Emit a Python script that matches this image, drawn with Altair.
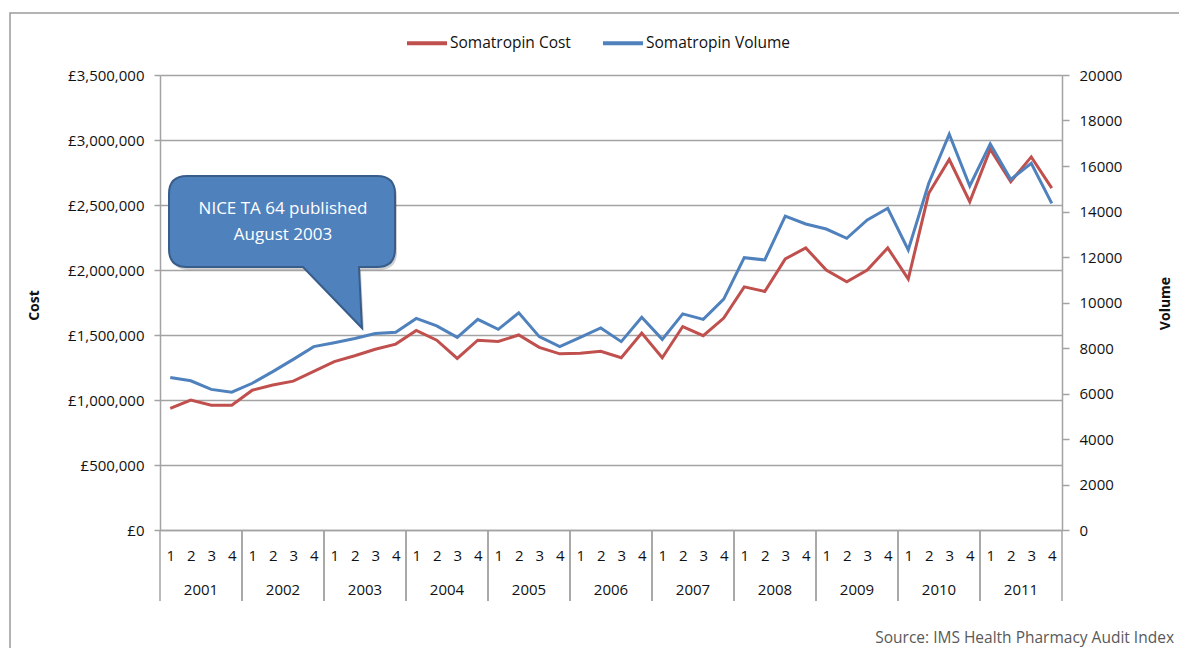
import altair as alt
import pandas as pd

# ---------------- data ----------------
years = ["2001", "2002", "2003", "2004", "2005", "2006",
         "2007", "2008", "2009", "2010", "2011"]
quarters = [1, 2, 3, 4]

cost = [935000, 1000000, 960000, 960000, 1075000, 1115000, 1145000, 1220000,
        1295000, 1340000, 1390000, 1430000, 1535000, 1460000, 1320000, 1460000,
        1450000, 1500000, 1405000, 1355000, 1360000, 1375000, 1325000, 1515000,
        1325000, 1565000, 1495000, 1630000, 1870000, 1835000, 2085000, 2170000,
        2000000, 1910000, 2000000, 2170000, 1930000, 2590000, 2850000, 2525000,
        2930000, 2680000, 2870000, 2630000]

volume = [6700, 6560, 6180, 6060, 6450, 6960, 7500, 8060,
          8230, 8420, 8640, 8690, 9300, 8970, 8470, 9260,
          8820, 9550, 8500, 8060, 8470, 8880, 8280, 9350,
          8380, 9500, 9260, 10150, 11970, 11870, 13800, 13450,
          13230, 12820, 13630, 14140, 12310, 15240, 17400, 15120,
          16970, 15410, 16120, 14360]

series_names = ["Somatropin Cost", "Somatropin Volume"]
annotation = "NICE TA 64 published\nAugust 2003"
source_note = "Source:  IMS Health Pharmacy Audit Index"

n = len(cost)
idx = list(range(n))
df = pd.DataFrame({
    "idx": idx,
    "year": [years[i // 4] for i in idx],
    "quarter": [quarters[i % 4] for i in idx],
    "cost": cost,
    "volume": volume,
})

# ---------------- styles ----------------
RED = "#C0504D"
BLUE = "#4F81BD"
GRID = "#a3a3a3"
TEXT = "#111111"
FONT = "Open Sans"

xscale = alt.Scale(domain=[-0.5, n - 0.5], nice=False, zero=False)
color_scale = alt.Scale(domain=series_names, range=[RED, BLUE])
legend = alt.Legend(
    orient="none", legendX=245, legendY=-54, direction="horizontal",
    title=None, symbolType="stroke", symbolStrokeWidth=4, symbolSize=1600,
    labelFontSize=15.5, labelOffset=1, columnPadding=24, labelColor=TEXT,
    labelFont=FONT,
)

x_axis = alt.Axis(
    values=idx, labelExpr="'' + (datum.value % 4 + 1)", ticks=False,
    tickSize=0, grid=False, domainColor=GRID, domainWidth=1.5,
    labelPadding=25, labelBaseline="middle", labelFlush=False,
    labelOverlap=False, title=None, labelFontSize=15, labelColor=TEXT,
    labelFont=FONT,
)

cost_line = alt.Chart(df).transform_calculate(
    series="'Somatropin Cost'"
).mark_line(strokeWidth=3).encode(
    x=alt.X("idx:Q", scale=xscale, axis=x_axis),
    y=alt.Y(
        "cost:Q",
        scale=alt.Scale(domain=[0, 3500000], nice=False),
        axis=alt.Axis(
            orient="left", values=list(range(0, 3500001, 500000)),
            labelExpr="'£' + format(datum.value, ',')",
            grid=True, gridColor=GRID, gridWidth=1.5,
            tickSize=6, tickColor=GRID, tickWidth=1.5,
            domainColor=GRID, domainWidth=1.5, labelPadding=10,
            labelFontSize=15, labelColor=TEXT, labelFont=FONT,
            title="Cost", titleX=-126, titleY=230, titleAngle=270,
            titleBaseline="middle", titleAlign="center",
            titleFontWeight="bold", titleFontSize=14, titleColor=TEXT,
        ),
    ),
    color=alt.Color("series:N", scale=color_scale, legend=legend),
)

vol_line = alt.Chart(df).transform_calculate(
    series="'Somatropin Volume'"
).mark_line(strokeWidth=3).encode(
    x=alt.X("idx:Q", scale=xscale, axis=x_axis),
    y=alt.Y(
        "volume:Q",
        scale=alt.Scale(domain=[0, 20000], nice=False),
        axis=alt.Axis(
            orient="right", values=list(range(0, 20001, 2000)), format="d",
            grid=False, tickSize=7, tickColor=GRID, tickWidth=1.5,
            domainColor=GRID, domainWidth=1.5, labelPadding=10,
            labelFontSize=15, labelColor=TEXT, labelFont=FONT,
            title="Volume", titleX=103, titleY=228, titleAngle=270,
            titleBaseline="middle", titleAlign="center",
            titleFontWeight="bold", titleFontSize=14, titleColor=TEXT,
        ),
    ),
    color=alt.Color("series:N", scale=color_scale, legend=legend),
)

# year labels centred under each group of quarters
year_text = alt.Chart(df).transform_aggregate(
    mid="mean(idx)", groupby=["year"]
).mark_text(fontSize=15, color=TEXT, baseline="middle", font=FONT).encode(
    x=alt.X("mid:Q", scale=xscale, axis=x_axis),
    y=alt.value(515),
    text="year:N",
)

# separators between years
sep_start = alt.Chart(df).transform_aggregate(
    lo="min(idx)", groupby=["year"]
).transform_calculate(b="datum.lo - 0.5").mark_rule(
    color=GRID, strokeWidth=1.5
).encode(
    x=alt.X("b:Q", scale=xscale, axis=x_axis),
    y=alt.value(455), y2=alt.value(526),
)
sep_end = alt.Chart(df).transform_aggregate(
    hi="max(idx)", groupby=["year"]
).transform_calculate(b="datum.hi + 0.5").mark_rule(
    color=GRID, strokeWidth=1.5
).encode(
    x=alt.X("b:Q", scale=xscale, axis=x_axis),
    y=alt.value(455), y2=alt.value(526),
)

# callout bubble (rounded box with a tail)
bubble_path = (
    "M -0.841,-0.673 L 0.841,-0.673 Q 1,-0.673 1,-0.514 L 1,-0.026 "
    "Q 1,0.133 0.841,0.133 L 0.681,0.133 L 0.708,0.673 L 0.186,0.133 "
    "L -0.841,0.133 Q -1,0.133 -1,-0.026 L -1,-0.514 Q -1,-0.673 -0.841,-0.673 Z"
)
bubble_df = pd.DataFrame({"label": [annotation]})
bubble_shadow = alt.Chart(bubble_df).mark_point(
    shape=bubble_path, filled=True, fill="#000000", opacity=0.18,
    strokeWidth=0, size=226 * 226,
).encode(x=alt.value(124), y=alt.value(180))
bubble = alt.Chart(bubble_df).mark_point(
    shape=bubble_path, filled=True, fill=BLUE, stroke="#385D8A",
    strokeWidth=2, opacity=1, size=226 * 226,
).encode(x=alt.value(122), y=alt.value(177))

bubble_text = alt.Chart(bubble_df).mark_text(
    fontSize=17, color="white", lineBreak="\n", lineHeight=26,
    align="center", baseline="middle", font=FONT,
).encode(x=alt.value(123), y=alt.value(134), text="label:N")

source_df = pd.DataFrame({"label": [source_note]})
source = alt.Chart(source_df).mark_text(
    fontSize=15.5, color="#595959", align="right", baseline="middle", font=FONT,
).encode(x=alt.value(1014), y=alt.value(563), text="label:N")

frame = alt.Chart(source_df).mark_rect(
    fill="transparent", stroke="#9a9a9a", strokeWidth=1.5,
).encode(x=alt.value(-150), x2=alt.value(1200),
         y=alt.value(-62), y2=alt.value(700))

lines = alt.layer(cost_line, vol_line).resolve_scale(y="independent")

chart = alt.layer(
    frame, sep_start, sep_end, year_text, lines, bubble_shadow, bubble,
    bubble_text, source
).resolve_scale(y="independent").properties(
    width=902, height=455,
    autosize=alt.AutoSizeParams(type="none"),
    padding={"left": 152, "top": 67, "right": 117, "bottom": 118},
    background="white",
).configure(font=FONT).configure_view(stroke="transparent")

chart.save("out.html", embed_options={"renderer": "svg", "actions": False})
